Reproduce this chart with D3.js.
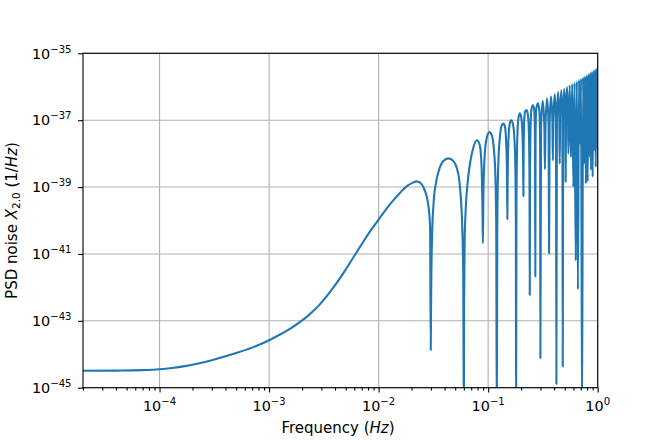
<!DOCTYPE html>
<html>
<head>
<meta charset="utf-8">
<script src="https://cdn.jsdelivr.net/npm/d3@7"></script>
<style>
  body { margin: 0; background: #fff; }
  svg { display: block; font-family: "DejaVu Sans", sans-serif; }
</style>
</head>
<body>
<svg id="chart" width="664" height="443"></svg>
<script>
// PSD noise of TDI X2.0 (Hz, 1/Hz)
const freq = [
  2e-5, 4e-5, 7e-5, 1e-4, 1.3e-4, 1.7e-4, 2.2e-4, 3e-4, 4e-4, 5e-4, 6.3e-4, 8e-4, 1e-3, 1.26e-3, 1.6e-3,
  2.06e-3, 2.5e-3, 2.92e-3, 3.5e-3, 4.16e-3, 5e-3, 5.89e-3, 7e-3, 8.41e-3, 1e-2, 1.16e-2, 1.36e-2, 1.58e-2,
  1.81e-2, 2.08e-2, 2.2e-2, 2.39e-2, 2.6e-2, 2.75e-2, 2.88e-2, 2.95e-2, 0.0299,
  0.0302, 0.0308, 0.0318, 0.0335, 0.0355, 0.039, 0.0434, 0.048, 0.0516, 0.0545, 0.0565, 0.058, 0.0592, 0.05995,
  0.0603, 0.061, 0.0625, 0.065, 0.069, 0.0735, 0.079, 0.0835, 0.0862, 0.0878, 0.0888, 0.0895,
  0.0905, 0.0925, 0.096, 0.1026, 0.108, 0.113, 0.1165, 0.1185, 0.11985,
  0.1212, 0.1235, 0.128, 0.1335, 0.138, 0.1425, 0.1465, 0.1485, 0.1497,
  0.1508, 0.1535, 0.158, 0.162, 0.168, 0.174, 0.1775, 0.179, 0.17985,
  0.1812, 0.1835, 0.188, 0.194, 0.2, 0.205, 0.2085, 0.2097,
  0.2108, 0.2135, 0.2185, 0.224, 0.231, 0.236, 0.2385, 0.2397,
  0.241, 0.2435, 0.249, 0.256, 0.263, 0.2675, 0.2695,
  0.2708, 0.274, 0.284, 0.293, 0.298, 0.2997,
  0.304, 0.315, 0.326, 0.3297,
  0.334, 0.345, 0.356, 0.3597,
  0.364, 0.375, 0.386, 0.3897,
  0.394, 0.405, 0.416, 0.4197,
  0.424, 0.435, 0.446, 0.4497,
  0.454, 0.465, 0.476, 0.4797,
  0.484, 0.495, 0.506, 0.5097,
  0.514, 0.525, 0.536, 0.5397,
  0.555, 0.5697,
  0.585, 0.5997,
  0.615, 0.6297,
  0.645, 0.6597,
  0.675, 0.6897,
  0.705, 0.7197,
  0.735, 0.7497,
  0.765, 0.7797,
  0.795, 0.8097,
  0.825, 0.8397,
  0.855, 0.8697,
  0.885, 0.8997,
  0.915, 0.9297,
  0.945, 0.9597,
  0.975, 0.9897,
  1.0
];
const psd = [
  3.2e-45, 3.25e-45, 3.35e-45, 3.55e-45, 3.89e-45, 4.42e-45, 5.19e-45, 6.65e-45, 8.67e-45, 1.084e-44, 1.4e-44, 1.88e-44, 2.63e-44, 3.89e-44, 6.17e-44,
  1.1e-43, 1.91e-43, 3.16e-43, 6.46e-43, 1.38e-42, 3.39e-42, 7.94e-42, 1.95e-41, 4.9e-41, 1.07e-40, 2.09e-40, 3.98e-40, 6.9e-40,
  1.07e-39, 1.38e-39, 1.48e-39, 1.35e-39, 8.9e-40, 5.1e-40, 2.0e-40, 6.5e-41, 1.35e-44,
  1e-42, 4e-41, 3.55e-40, 1.41e-39, 3.16e-39, 6.0e-39, 7.2e-39, 6.0e-39, 3.8e-39, 1.58e-39, 4e-40, 6.3e-41, 2.5e-42, 1e-46,
  3.2e-43, 2.5e-41, 2.5e-40, 1.41e-39, 6.3e-39, 1.58e-38, 2.5e-38, 1.9e-38, 7.9e-39, 1.58e-39, 2e-40, 2.1e-41,
  6.3e-40, 6.3e-39, 2.5e-38, 4.4e-38, 3.5e-38, 1.26e-38, 2e-39, 6.3e-41, 1e-46,
  1e-40, 4e-39, 3.2e-38, 7.1e-38, 7.9e-38, 6.3e-38, 1.6e-38, 2.5e-39, 1.1e-40,
  2.5e-39, 3.2e-38, 8.3e-38, 1e-37, 7.9e-38, 2.5e-38, 2.5e-39, 1e-40, 1e-46,
  2.5e-40, 1.26e-38, 1e-37, 1.6e-37, 1.26e-37, 5e-38, 5e-39, 5.4e-40,
  1.26e-38, 1e-37, 1.9e-37, 2e-37, 1.4e-37, 3.2e-38, 1.6e-39, 5.9e-43,
  1.6e-39, 5e-38, 2.2e-37, 2.8e-37, 2.1e-37, 3.2e-38, 2.1e-42,
  2.5e-38, 2e-37, 3.2e-37, 2e-37, 2.5e-38, 7.6e-45,
  6.0e-38, 3.8e-37, 6.0e-38, 3.4e-39,
  7.1e-38, 4.5e-37, 7.1e-38, 1.05e-41,
  8.3e-38, 5.2e-37, 8.3e-38, 6.3e-39,
  9.5e-38, 6.0e-37, 9.5e-38, 1.3e-45,
  1.1e-37, 6.9e-37, 1.1e-37, 5e-39,
  1.23e-37, 7.8e-37, 1.23e-37, 4.3e-45,
  1.38e-37, 8.7e-37, 1.38e-37, 1.45e-39,
  1.55e-37, 9.8e-37, 1.55e-37, 1e-38,
  1.1e-36, 7.9e-39,
  1.2e-36, 1e-39,
  1.32e-36, 6.3e-42,
  1.45e-36, 8.7e-43,
  1.58e-36, 2e-38,
  1.74e-36, 1e-46,
  1.9e-36, 5e-39,
  2.0e-36, 1.26e-39,
  2.2e-36, 1.45e-39,
  2.4e-36, 7.9e-39,
  2.6e-36, 3.2e-39,
  2.8e-36, 2e-39,
  3.0e-36, 1.26e-38,
  3.2e-36, 4e-39,
  3.5e-36, 1.6e-38,
  2.5e-36
];

const xTicks = [1e-4, 1e-3, 1e-2, 1e-1, 1];
const xTickExp = ["\u22124", "\u22123", "\u22122", "\u22121", "0"];
const yTicks = [1e-45, 1e-43, 1e-41, 1e-39, 1e-37, 1e-35];
const yTickExp = ["\u221245", "\u221243", "\u221241", "\u221239", "\u221237", "\u221235"];

const margin = { left: 83, right: 66.3, top: 53.3, bottom: 55.3 };
const W = 664, H = 443;
const fs = 14.4, fsSup = 10.1, fsLab = 15;

const svg = d3.select("#chart");
const x = d3.scaleLog().domain([2e-5, 1]).range([margin.left, W - margin.right]);
const y = d3.scaleLog().domain([1e-45, 1e-35]).range([H - margin.bottom, margin.top]);

const x0 = x.range()[0], x1 = x.range()[1];
const yb = y.range()[0], yt = y.range()[1];

// minor x ticks (2..9 of each decade)
const xMinor = [];
for (let k = -5; k < 0; k++) {
  for (let m = 2; m <= 9; m++) {
    const v = m * Math.pow(10, k);
    if (v >= 2e-5 && v < 1) xMinor.push(v);
  }
}

// grid
const grid = svg.append("g").attr("stroke", "#b0b0b0").attr("stroke-width", 1.1);
grid.selectAll("line.gx").data(xTicks).join("line")
  .attr("x1", d => x(d)).attr("x2", d => x(d))
  .attr("y1", yt).attr("y2", yb);
grid.selectAll("line.gy").data(yTicks).join("line")
  .attr("x1", x0).attr("x2", x1)
  .attr("y1", d => y(d)).attr("y2", d => y(d));

// curve
svg.append("clipPath").attr("id", "clip")
  .append("rect").attr("x", x0).attr("y", yt).attr("width", x1 - x0).attr("height", yb - yt);

const pts = freq.map((f, i) => [f, psd[i]]);
const line = d3.line().x(d => x(d[0])).y(d => y(d[1])).curve(d3.curveMonotoneX);
svg.append("path")
  .attr("clip-path", "url(#clip)")
  .attr("d", line(pts))
  .attr("fill", "none")
  .attr("stroke", "#1f77b4")
  .attr("stroke-width", 2.1)
  .attr("stroke-linejoin", "round");

// axes
svg.append("g").attr("transform", `translate(0,${yb})`)
  .call(d3.axisBottom(x).tickValues(xTicks).tickSize(4.9).tickSizeOuter(0).tickFormat(() => ""));
svg.append("g").attr("transform", `translate(0,${yb})`)
  .call(d3.axisBottom(x).tickValues(xMinor).tickSize(2.8).tickSizeOuter(0).tickFormat(() => ""));
svg.append("g").attr("transform", `translate(${x0},0)`)
  .call(d3.axisLeft(y).tickValues(yTicks).tickSize(4.9).tickSizeOuter(0).tickFormat(() => ""));

svg.selectAll(".tick line").attr("stroke", "#000").attr("stroke-width", 1.1);
svg.selectAll(".domain").remove();

// frame
svg.append("rect").attr("x", x0).attr("y", yt).attr("width", x1 - x0).attr("height", yb - yt)
  .attr("fill", "none").attr("stroke", "#000").attr("stroke-width", 1.1);

// tick labels
const xl = svg.append("g");
xTicks.forEach((t, i) => {
  const txt = xl.append("text").attr("x", x(t)).attr("y", yb + 23.5)
    .attr("text-anchor", "middle").attr("font-size", fs);
  txt.append("tspan").text("10");
  txt.append("tspan").attr("dy", -6).attr("font-size", fsSup).text(xTickExp[i]);
});
const yl = svg.append("g");
yTicks.forEach((t, i) => {
  const txt = yl.append("text").attr("x", x0 - 11.5).attr("y", y(t) + 5.2)
    .attr("text-anchor", "end").attr("font-size", fs);
  txt.append("tspan").text("10");
  txt.append("tspan").attr("dy", -6).attr("font-size", fsSup).text(yTickExp[i]);
});

// axis labels
const xlab = svg.append("text").attr("x", 338).attr("y", 433)
  .attr("text-anchor", "middle").attr("font-size", fsLab);
xlab.append("tspan").text("Frequency (");
xlab.append("tspan").attr("font-style", "italic").text("Hz");
xlab.append("tspan").text(")");

const ylab = svg.append("text")
  .attr("transform", `translate(17,${(yt + yb) / 2}) rotate(-90)`)
  .attr("text-anchor", "middle").attr("font-size", fsLab);
ylab.append("tspan").text("PSD noise ");
ylab.append("tspan").attr("font-style", "italic").text("X");
ylab.append("tspan").attr("dy", 3).attr("font-size", 10.5).text("2.0");
ylab.append("tspan").attr("dy", -3).text(" (1/");
ylab.append("tspan").attr("font-style", "italic").text("Hz");
ylab.append("tspan").text(")");
</script>
</body>
</html>
